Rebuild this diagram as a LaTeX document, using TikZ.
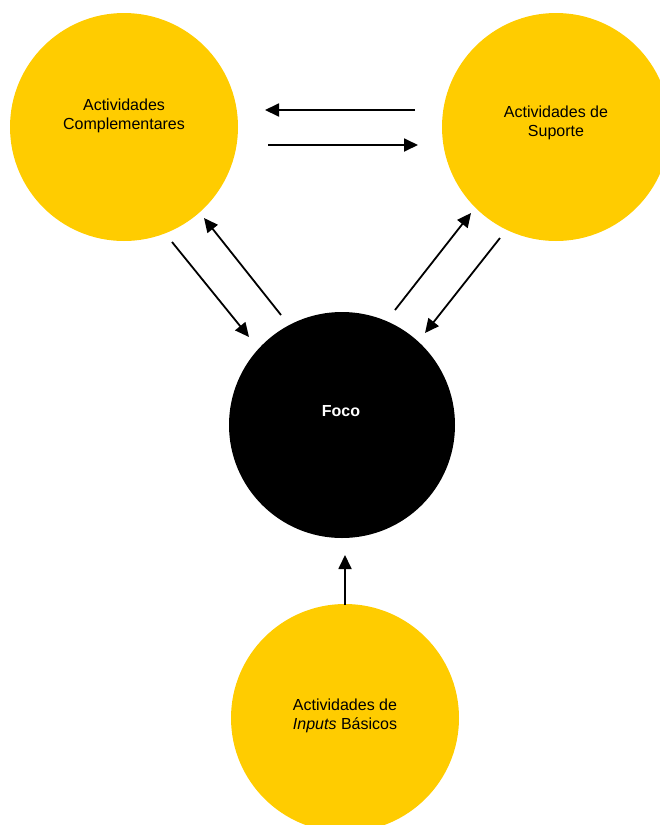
\documentclass[tikz,border=0pt]{standalone}
\usepackage{fontspec}
\setmainfont{Liberation Sans}
\usetikzlibrary{arrows.meta}
\definecolor{gold}{HTML}{FFCC00}
\begin{document}
\begin{tikzpicture}[x=1pt,y=-1pt,
  disc/.style={circle,fill=gold,draw=none,minimum size=228pt,inner sep=0pt},
  focus/.style={circle,fill=black,draw=none,minimum size=226pt,inner sep=0pt},
  caption/.style={align=center,font=\fontsize{16}{18.5}\selectfont},
  flow/.style={line width=1.8pt,-{Triangle[length=14pt,width=13pt]}}]
  \useasboundingbox (0,0) rectangle (659,825);

  % circles
  \node[disc]  (comp) at (124,127) {};
  \node[disc]  (sup)  at (556,127) {};
  \node[focus] (foco) at (342,425) {};
  \node[disc]  (inp)  at (345,718) {};

  % captions
  \node[caption] (compT) at (124,116) {Actividades\\Complementares};
  \node[caption] (supT)  at (556,123) {Actividades de\\Suporte};
  \node[caption,text=white,font=\fontsize{16}{18.5}\selectfont\bfseries] (focoT) at (341,411) {Foco};
  \node[caption] (inpT)  at (345,716) {Actividades de\\\textit{Inputs} Básicos};

  % arrow end points
  \coordinate (a1s) at (415,110); \coordinate (a1e) at (265,110);
  \coordinate (a2s) at (268,145); \coordinate (a2e) at (418,145);
  \coordinate (a3s) at (172,242); \coordinate (a3e) at (249,337);
  \coordinate (a4s) at (281,315); \coordinate (a4e) at (204,218);
  \coordinate (a5s) at (395,310); \coordinate (a5e) at (471,213);
  \coordinate (a6s) at (500,238); \coordinate (a6e) at (425,333);
  \coordinate (a7s) at (345,605); \coordinate (a7e) at (345,555);

  % connectors
  \draw[flow] (a1s) -- (a1e);
  \draw[flow] (a2s) -- (a2e);
  \draw[flow] (a3s) -- (a3e);
  \draw[flow] (a4s) -- (a4e);
  \draw[flow] (a5s) -- (a5e);
  \draw[flow] (a6s) -- (a6e);
  \draw[flow] (a7s) -- (a7e);
\end{tikzpicture}
\end{document}
